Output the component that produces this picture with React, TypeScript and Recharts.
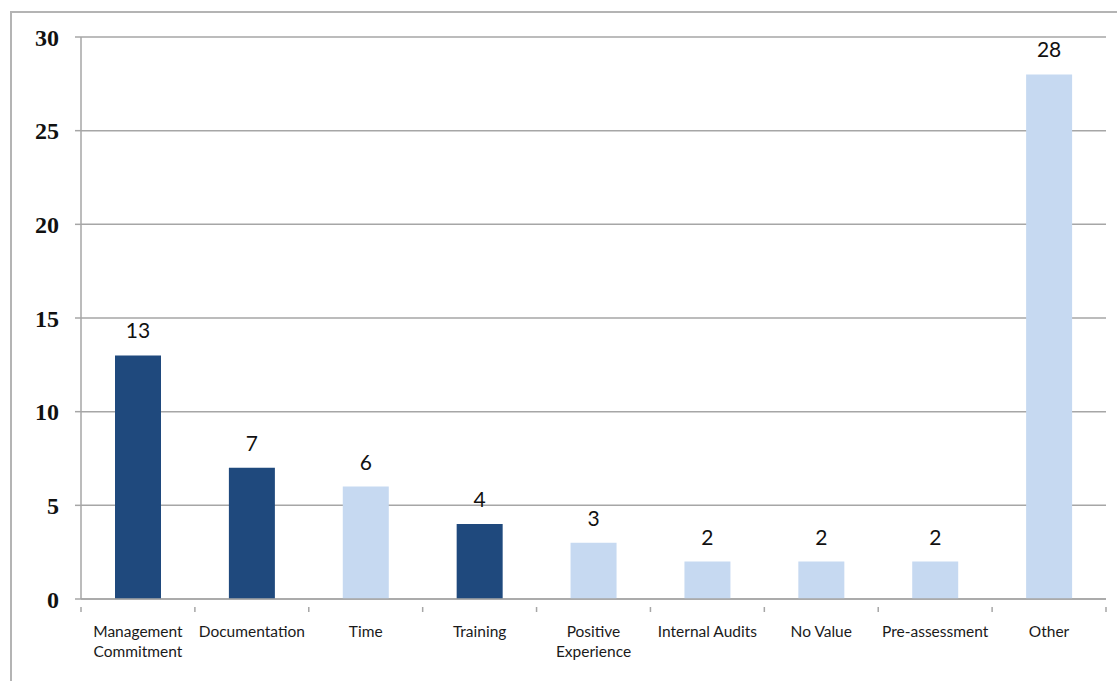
import React from "react";
import { BarChart, Bar, XAxis, YAxis, CartesianGrid, Cell, LabelList } from "recharts";

const categories = [
  "Management Commitment",
  "Documentation",
  "Time",
  "Training",
  "Positive Experience",
  "Internal Audits",
  "No Value",
  "Pre-assessment",
  "Other",
];
const counts = [13, 7, 6, 4, 3, 2, 2, 2, 28];
const highlighted = [true, true, false, true, false, false, false, false, false];
const yTicks = [0, 5, 10, 15, 20, 25, 30];

// category labels that break onto two lines
const labelLines: Record<string, string[]> = {
  "Management Commitment": ["Management", "Commitment"],
  "Positive Experience": ["Positive", "Experience"],
};

const data = categories.map((name, i) => ({ name, value: counts[i], dark: highlighted[i] }));

const W = 1117;
const H = 681;
const margin = { top: 37, right: 11, left: 0, bottom: 0 };
const yAxisWidth = 81;
const xAxisHeight = 82;
const band = (W - margin.left - margin.right - yAxisWidth) / categories.length;

const DARK = "#1F497D";
const LIGHT = "#C6D9F1";
const LINE = "#A6A6A6";

const CategoryTick = (props: any) => {
  const { x, y, payload, index } = props;
  const lines = labelLines[payload.value] ?? [payload.value];
  return (
    <g>
      {index === 0 && (
        <line x1={x - band / 2} x2={x - band / 2} y1={y} y2={y + 5} stroke={LINE} strokeWidth={1.5} />
      )}
      <line x1={x + band / 2} x2={x + band / 2} y1={y} y2={y + 5} stroke={LINE} strokeWidth={1.5} />
      <text
        x={x}
        y={y + 30}
        textAnchor="middle"
        fontFamily="Lato, 'Open Sans', sans-serif"
        fontSize={15.5}
        fill="#1a1a1a"
      >
        {lines.map((ln, k) => (
          <tspan key={k} x={x} dy={k === 0 ? 0 : 20}>
            {ln}
          </tspan>
        ))}
      </text>
    </g>
  );
};

const ValueLabel = (props: any) => {
  const { x, y, width, value } = props;
  return (
    <text
      x={x + width / 2}
      y={y - 17}
      textAnchor="middle"
      fontFamily="Lato, 'Open Sans', sans-serif"
      fontSize={21}
      fill="#111"
    >
      {value}
    </text>
  );
};

export default function App() {
  return (
    <div style={{ position: "absolute", left: 0, top: 0, width: W, height: H, background: "#fff" }}>
      <div
        style={{
          position: "absolute",
          left: 10,
          top: 11,
          width: W - 10,
          height: H - 11,
          borderLeft: "2px solid #B4B4B4",
          borderTop: "2px solid #B4B4B4",
          boxSizing: "border-box",
        }}
      />
      <div style={{ position: "absolute", left: 0, top: 0 }}>
        <BarChart width={W} height={H} data={data} margin={margin} barCategoryGap={0}>
          <CartesianGrid vertical={false} stroke={LINE} strokeWidth={1.5} />
          <XAxis
            dataKey="name"
            interval={0}
            height={xAxisHeight}
            axisLine={{ stroke: LINE, strokeWidth: 1.5 }}
            tickLine={false}
            tick={<CategoryTick />}
          />
          <YAxis
            width={yAxisWidth}
            domain={[0, 30]}
            ticks={yTicks}
            interval={0}
            axisLine={{ stroke: LINE, strokeWidth: 1.5 }}
            tickLine={{ stroke: LINE, strokeWidth: 1.5 }}
            tickSize={6}
            tickMargin={16}
            tick={{
              fill: "#111",
              fontFamily: "'Liberation Serif', serif",
              fontWeight: "bold",
              fontSize: 24,
            }}
          />
          <Bar dataKey="value" barSize={46} isAnimationActive={false}>
            {data.map((d, i) => (
              <Cell key={i} fill={d.dark ? DARK : LIGHT} />
            ))}
            <LabelList dataKey="value" content={<ValueLabel />} />
          </Bar>
        </BarChart>
      </div>
    </div>
  );
}
